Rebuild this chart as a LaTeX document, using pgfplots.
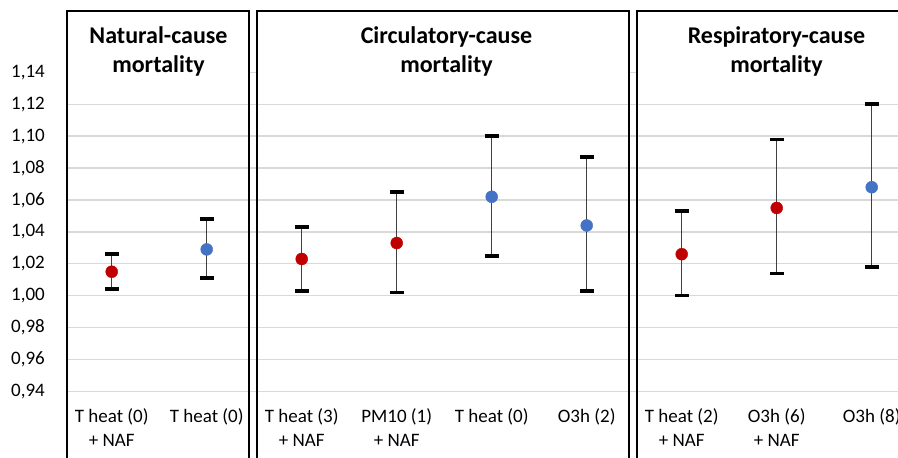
\documentclass[border=0pt]{standalone}
\usepackage{pgfplots}
\pgfplotsset{compat=1.18}
\usepackage{fontspec}
\setmainfont{Carlito}
\definecolor{ptred}{HTML}{C00000}
\definecolor{ptblue}{HTML}{4472C4}
\definecolor{gridgray}{HTML}{D9D9D9}
\definecolor{barline}{HTML}{404040}
\begin{document}
\begin{tikzpicture}
\useasboundingbox (-66pt,0pt) rectangle (832pt,458pt);
\begin{axis}[
  scale only axis, width=832pt, height=458pt,
  xmin=-0.4811, xmax=8.2768, ymin=0.8982, ymax=1.1854,
  clip=false,
  axis line style={draw=none}, major tick length=0pt,
  ytick={0.94,0.96,0.98,1.00,1.02,1.04,1.06,1.08,1.10,1.12,1.14},
  ymajorgrids, grid style={gridgray, line width=1.4pt},
  yticklabel style={/pgf/number format/fixed, /pgf/number format/fixed zerofill, /pgf/number format/precision=2, /pgf/number format/use comma, /pgf/number format/assume math mode=true},
  yticklabel style={font=\fontsize{19}{23}\selectfont, inner sep=0pt, anchor=east, xshift=-21pt},
  xtick={0,1,2,3,4,5,6,7,8},
  xticklabels={{T heat (0)\\+ NAF},{T heat (0)\\\mbox{}},{T heat (3)\\+ NAF},{PM10 (1)\\+ NAF},{T heat (0)\\\mbox{}},{O3h (2)\\\mbox{}},{T heat (2)\\+ NAF},{O3h (6)\\+ NAF},{O3h (8)\\\mbox{}}},
  xticklabel style={font=\fontsize{19}{24}\selectfont, align=center, anchor=base, inner sep=0pt, yshift=11pt},
]
\addplot[only marks, mark=*, mark size=6pt, mark options={fill=ptred, draw=ptred},
  error bars/.cd, y dir=both, y explicit,
  error bar style={line width=1.3pt, color=barline},
  error mark options={rotate=90, mark size=7pt, line width=3.6pt, black}]
  table[x=x, y=y, y error plus expr=\thisrow{hi}-\thisrow{y}, y error minus expr=\thisrow{y}-\thisrow{lo}] {
x y lo hi
0 1.015 1.004 1.026
2 1.023 1.003 1.043
3 1.033 1.002 1.065
6 1.026 1.000 1.053
7 1.055 1.014 1.098
};
\addplot[only marks, mark=*, mark size=6pt, mark options={fill=ptblue, draw=ptblue},
  error bars/.cd, y dir=both, y explicit,
  error bar style={line width=1.3pt, color=barline},
  error mark options={rotate=90, mark size=7pt, line width=3.6pt, black}]
  table[x=x, y=y, y error plus expr=\thisrow{hi}-\thisrow{y}, y error minus expr=\thisrow{y}-\thisrow{lo}] {
x y lo hi
1 1.029 1.011 1.048
4 1.062 1.025 1.100
5 1.044 1.003 1.087
8 1.068 1.018 1.120
};
\end{axis}
% title areas (white) and panel frames
\fill[white] (1pt,362pt) rectangle (183pt,447pt);
\fill[white] (190.7pt,362pt) rectangle (563pt,447pt);
\fill[white] (571pt,362pt) rectangle (849pt,447pt);
\draw[black, line width=1.6pt] (1pt,-10pt) rectangle (183pt,447pt);
\draw[black, line width=1.6pt] (190.7pt,-10pt) rectangle (563pt,447pt);
\draw[black, line width=1.6pt] (571pt,-10pt) rectangle (849pt,447pt);
\node[anchor=base, font=\bfseries\fontsize{24}{29}\selectfont] at (92.5pt,414.7pt) {Natural-cause};
\node[anchor=base, font=\bfseries\fontsize{24}{29}\selectfont] at (92.5pt,385.3pt) {mortality};
\node[anchor=base, font=\bfseries\fontsize{24}{29}\selectfont] at (380.5pt,414.7pt) {Circulatory-cause};
\node[anchor=base, font=\bfseries\fontsize{24}{29}\selectfont] at (380.5pt,385.3pt) {mortality};
\node[anchor=base, font=\bfseries\fontsize{24}{29}\selectfont] at (710.5pt,414.7pt) {Respiratory-cause};
\node[anchor=base, font=\bfseries\fontsize{24}{29}\selectfont] at (710.5pt,385.3pt) {mortality};
\end{tikzpicture}
\end{document}
